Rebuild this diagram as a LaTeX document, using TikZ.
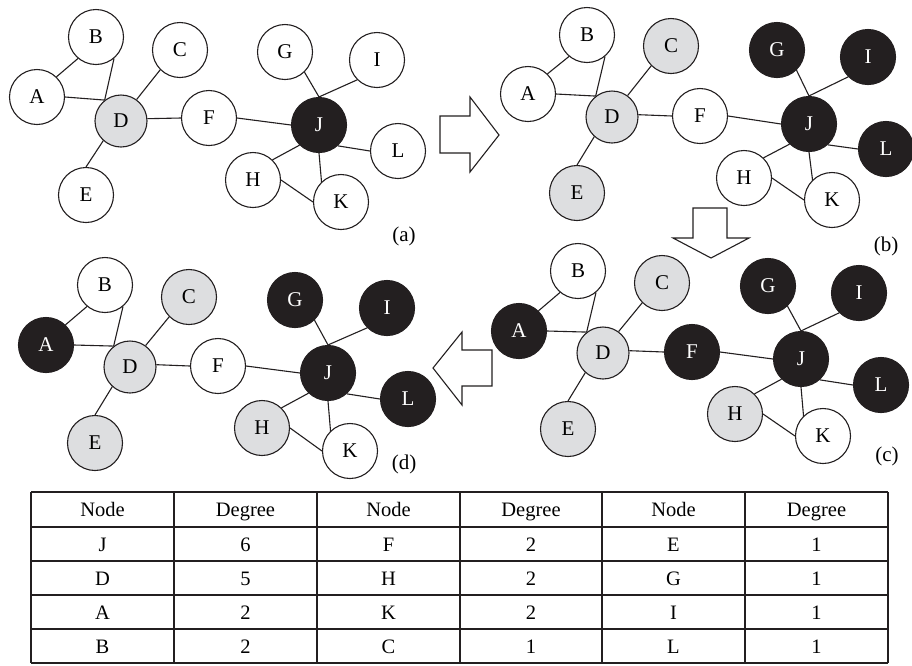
\documentclass[tikz,border=0pt]{standalone}
\usepackage{fontspec}
\setmainfont{Liberation Serif}
\definecolor{ngray}{RGB}{221,222,224}
\definecolor{nblack}{RGB}{35,31,32}
\tikzset{
  vtx/.style={circle, draw=nblack, line width=1.1pt, minimum size=55pt, inner sep=0pt, font=\fontsize{21}{25}\selectfont},
  wv/.style={vtx, fill=white},
  gv/.style={vtx, fill=ngray},
  bv/.style={vtx, fill=nblack, text=white},
  smallv/.style={minimum size=52pt},
  edge/.style={line width=1.1pt, draw=nblack},
  bigarrow/.style={line width=1.1pt, draw=nblack, line join=miter, fill=white},
  plabel/.style={inner sep=0pt, font=\fontsize{21}{25}\selectfont},
  tcell/.style={anchor=base, inner sep=0pt, font=\fontsize{20.5}{25}\selectfont},
  tline/.style={line width=1.1pt, draw=nblack}
}
\newcommand\graphedges[1]{%
  \draw[edge] (#1A.46) -- (#1B.230);
  \draw[edge] (#1A.0) -- (#1D.128);
  \draw[edge] (#1B.-50) -- (#1D.128);
  \draw[edge] (#1C.225) -- (#1D.54);
  \draw[edge] (#1D.228) -- (#1E.90);
  \draw[edge] (#1D.5) -- (#1F.180);
  \draw[edge] (#1F.0) -- (#1J.180);
  \draw[edge] (#1G.-46) -- (#1J.90);
  \draw[edge] (#1I.225) -- (#1J.90);
  \draw[edge] (#1J.-48) -- (#1L.180);
  \draw[edge] (#1J.226) -- (#1H.46);
  \draw[edge] (#1J.-90) -- (#1K.134);
  \draw[edge] (#1H.0) -- (#1K.180);
}
\newcommand\tabrow[7]{%
  \node[tcell] (t#1a) at (102.5,#2) {#3};
  \node[tcell] (t#1b) at (245.5,#2) {#4};
  \node[tcell] (t#1c) at (388.5,#2) {#5};
  \node[tcell] (t#1d) at (531,#2) {#6};
  \node[tcell] (t#1e) at (673.5,#2) {#7};
}
\begin{document}
\begin{tikzpicture}[x=1pt,y=-1pt]
\useasboundingbox[fill=white] (0,0) rectangle (912,665);

% ---- panel (a)
\node[wv] (aA) at (37,97) {A};
\node[wv] (aB) at (96,37) {B};
\node[wv] (aC) at (180,50) {C};
\node[gv,smallv] (aD) at (121,121) {D};
\node[wv] (aE) at (86,195) {E};
\node[wv] (aF) at (209,118) {F};
\node[wv] (aG) at (285,52) {G};
\node[wv] (aI) at (377,60) {I};
\node[bv] (aJ) at (319,125) {J};
\node[wv] (aL) at (398,151) {L};
\node[wv] (aH) at (253,180) {H};
\node[wv] (aK) at (341,202) {K};
\graphedges{a}
\node[plabel] (la) at (404,236) {(a)};

% ---- panel (b)
\node[wv] (bA) at (528,94) {A};
\node[wv] (bB) at (587,35) {B};
\node[gv] (bC) at (671,46) {C};
\node[gv,smallv] (bD) at (612,117) {D};
\node[gv] (bE) at (577,193) {E};
\node[wv] (bF) at (700,116) {F};
\node[bv] (bG) at (777,50) {G};
\node[bv] (bI) at (868,57) {I};
\node[bv] (bJ) at (809,124) {J};
\node[bv] (bL) at (886,149) {L};
\node[wv] (bH) at (744,178) {H};
\node[wv] (bK) at (832,200) {K};
\graphedges{b}
\node[plabel] (lb) at (886,246) {(b)};

% ---- panel (c)
\node[bv] (cA) at (519,331) {A};
\node[wv] (cB) at (578,271) {B};
\node[gv] (cC) at (662,283) {C};
\node[gv,smallv] (cD) at (603,353) {D};
\node[gv] (cE) at (568,429) {E};
\node[bv] (cF) at (692,352) {F};
\node[bv] (cG) at (768,286) {G};
\node[bv] (cI) at (859,293) {I};
\node[bv] (cJ) at (801,359) {J};
\node[bv] (cL) at (881,385) {L};
\node[gv] (cH) at (735,414) {H};
\node[wv] (cK) at (823,436) {K};
\graphedges{c}
\node[plabel] (lc) at (887,456) {(c)};

% ---- panel (d)
\node[bv] (dA) at (46,345) {A};
\node[wv] (dB) at (105,285) {B};
\node[gv] (dC) at (189,297) {C};
\node[gv,smallv] (dD) at (130,367) {D};
\node[gv] (dE) at (95,443) {E};
\node[wv] (dF) at (218,366) {F};
\node[bv] (dG) at (295,300) {G};
\node[bv] (dI) at (387,308) {I};
\node[bv] (dJ) at (328,373) {J};
\node[bv] (dL) at (408,399) {L};
\node[gv] (dH) at (262,428) {H};
\node[wv] (dK) at (350,451) {K};
\graphedges{d}
\node[plabel] (ld) at (404,464) {(d)};

% ---- block arrows
\draw[bigarrow] (440,116) -- (470,116) -- (470,97) -- (499,135) -- (470,172) -- (470,153) -- (440,153) -- cycle;
\draw[bigarrow] (693,208) -- (727,208) -- (727,238) -- (749,238) -- (711,258) -- (673,238) -- (693,238) -- cycle;
\draw[bigarrow] (492,350) -- (462,350) -- (462,332) -- (433,368) -- (462,405) -- (462,386) -- (492,386) -- cycle;

% ---- table
\foreach \yy in {492,527,561,595,629,663} \draw[tline] (31,\yy) -- (888,\yy);
\foreach \xx in {31,174,317,460,602,745,888} \draw[tline] (\xx,492) -- (\xx,663);
\node[tcell] (t0f) at (816.5,516.5) {Degree};
\tabrow{0}{516.5}{Node}{Degree}{Node}{Degree}{Node}
\node[tcell] (t1f) at (816.5,551) {1};
\tabrow{1}{551}{J}{6}{F}{2}{E}
\node[tcell] (t2f) at (816.5,585) {1};
\tabrow{2}{585}{D}{5}{H}{2}{G}
\node[tcell] (t3f) at (816.5,619) {1};
\tabrow{3}{619}{A}{2}{K}{2}{I}
\node[tcell] (t4f) at (816.5,653) {1};
\tabrow{4}{653}{B}{2}{C}{1}{L}
\end{tikzpicture}
\end{document}
